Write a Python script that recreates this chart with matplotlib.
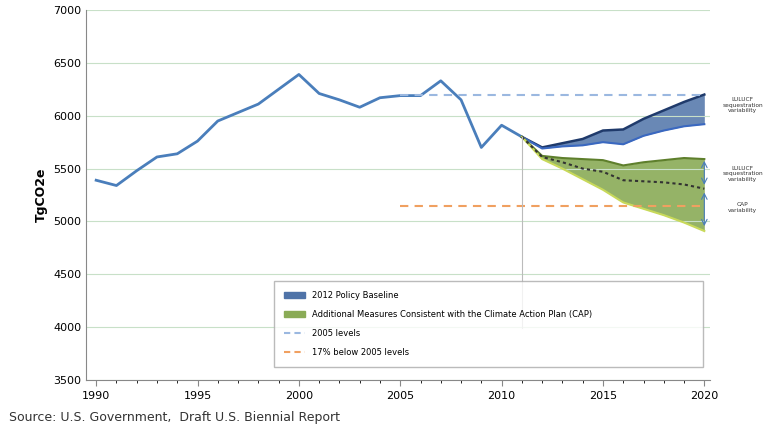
import matplotlib.pyplot as plt
from matplotlib.patches import Patch
from matplotlib.lines import Line2D

years_hist = list(range(1990, 2012))
hist = [5390, 5340, 5480, 5610, 5640, 5760, 5950, 6030, 6110, 6250, 6390,
        6210, 6150, 6080, 6170, 6190, 6190, 6330, 6150, 5700, 5910, 5800]
years_proj = list(range(2011, 2021))
base_hi = [5800, 5700, 5740, 5780, 5860, 5870, 5970, 6050, 6130, 6200]
base_lo = [5800, 5690, 5710, 5720, 5750, 5730, 5810, 5860, 5900, 5920]
cap_hi = [5800, 5620, 5600, 5590, 5580, 5530, 5560, 5580, 5600, 5590]
cap_lo = [5800, 5590, 5500, 5400, 5300, 5180, 5120, 5060, 4990, 4910]
cap_mid = [5800, 5610, 5560, 5500, 5470, 5390, 5380, 5370, 5350, 5310]
level_2005 = 6200
level_17 = 5150

fig = plt.figure(figsize=(7.68, 4.32), dpi=100)
ax = fig.add_axes([0.112, 0.12, 0.813, 0.857])

ax.plot(years_hist, hist, color='#4a7ebb', lw=2)
ax.fill_between(years_proj, base_lo, base_hi, color='#4f73a8', alpha=0.85, lw=0)
ax.plot(years_proj, base_hi, color='#1f3a6b', lw=1.8)
ax.plot(years_proj, base_lo, color='#3a68c0', lw=1.5)
ax.fill_between(years_proj, cap_lo, cap_hi, color='#8aab56', alpha=0.9, lw=0)
ax.plot(years_proj, cap_hi, color='#5e7f2c', lw=1.5)
ax.plot(years_proj, cap_lo, color='#c8d95a', lw=1.5)
ax.plot(years_proj, cap_mid, color='#333333', lw=1.5, ls=(0, (1.5, 1.5)))
ax.hlines(level_2005, 2005, 2020, colors='#9bb8e0', linestyles=(0, (4, 3)), lw=1.5)
ax.hlines(level_17, 2005, 2020, colors='#f0a060', linestyles=(0, (4, 3)), lw=1.5)
ax.plot([2011, 2011], [3990, 5800], color='#bbbbbb', lw=0.8)

# variability arrows
for y0, y1 in [(5600, 5320), (5300, 4930)]:
    ax.annotate('', xy=(2020, y1), xytext=(2020, y0),
                arrowprops=dict(arrowstyle='<->', color='#4a7ebb', lw=0.8))

for y, t in [(6100, 'LULUCF\nsequestration\nvariability'),
             (5450, 'LULUCF\nsequestration\nvariability'),
             (5130, 'CAP\nvariability')]:
    ax.text(2021.9, y, t, fontsize=4.2, ha='center', va='center', color='#333333')

ax.set_xlim(1989.5, 2020.3)
ax.set_ylim(3500, 7000)
ax.set_xticks(range(1990, 2021, 5))
ax.set_xticks(range(1990, 2021), minor=True)
ax.set_yticks(range(3500, 7001, 500))
ax.grid(axis='y', color='#c8e0c8', lw=0.8)
ax.tick_params(labelsize=8, length=4, color='#888888')
ax.tick_params(axis='y', length=0)
for s in ['top', 'right']:
    ax.spines[s].set_visible(False)
for s in ['left', 'bottom']:
    ax.spines[s].set_color('#888888')
ax.set_ylabel('TgCO2e', fontsize=9, fontweight='bold')

handles = [Patch(color='#4f73a8'), Patch(color='#8aab56'),
           Line2D([], [], color='#9bb8e0', ls=(0, (3, 2))),
           Line2D([], [], color='#f0a060', ls=(0, (3, 2)))]
labels = ['2012 Policy Baseline',
          'Additional Measures Consistent with the Climate Action Plan (CAP)',
          '2005 levels', '17% below 2005 levels']
leg = ax.legend(handles, labels, loc='lower left', bbox_to_anchor=(0.295, 0.025, 0.7, 0.27),
                mode='expand', fontsize=6, frameon=True, fancybox=False,
                handlelength=2.5, labelspacing=1.2, borderpad=1.2)
leg.get_frame().set_edgecolor('#aaaaaa')

fig.text(0.012, 0.025, 'Source: U.S. Government,  Draft U.S. Biennial Report', fontsize=9, color='#333333')
fig.savefig('out.png', dpi=100)
